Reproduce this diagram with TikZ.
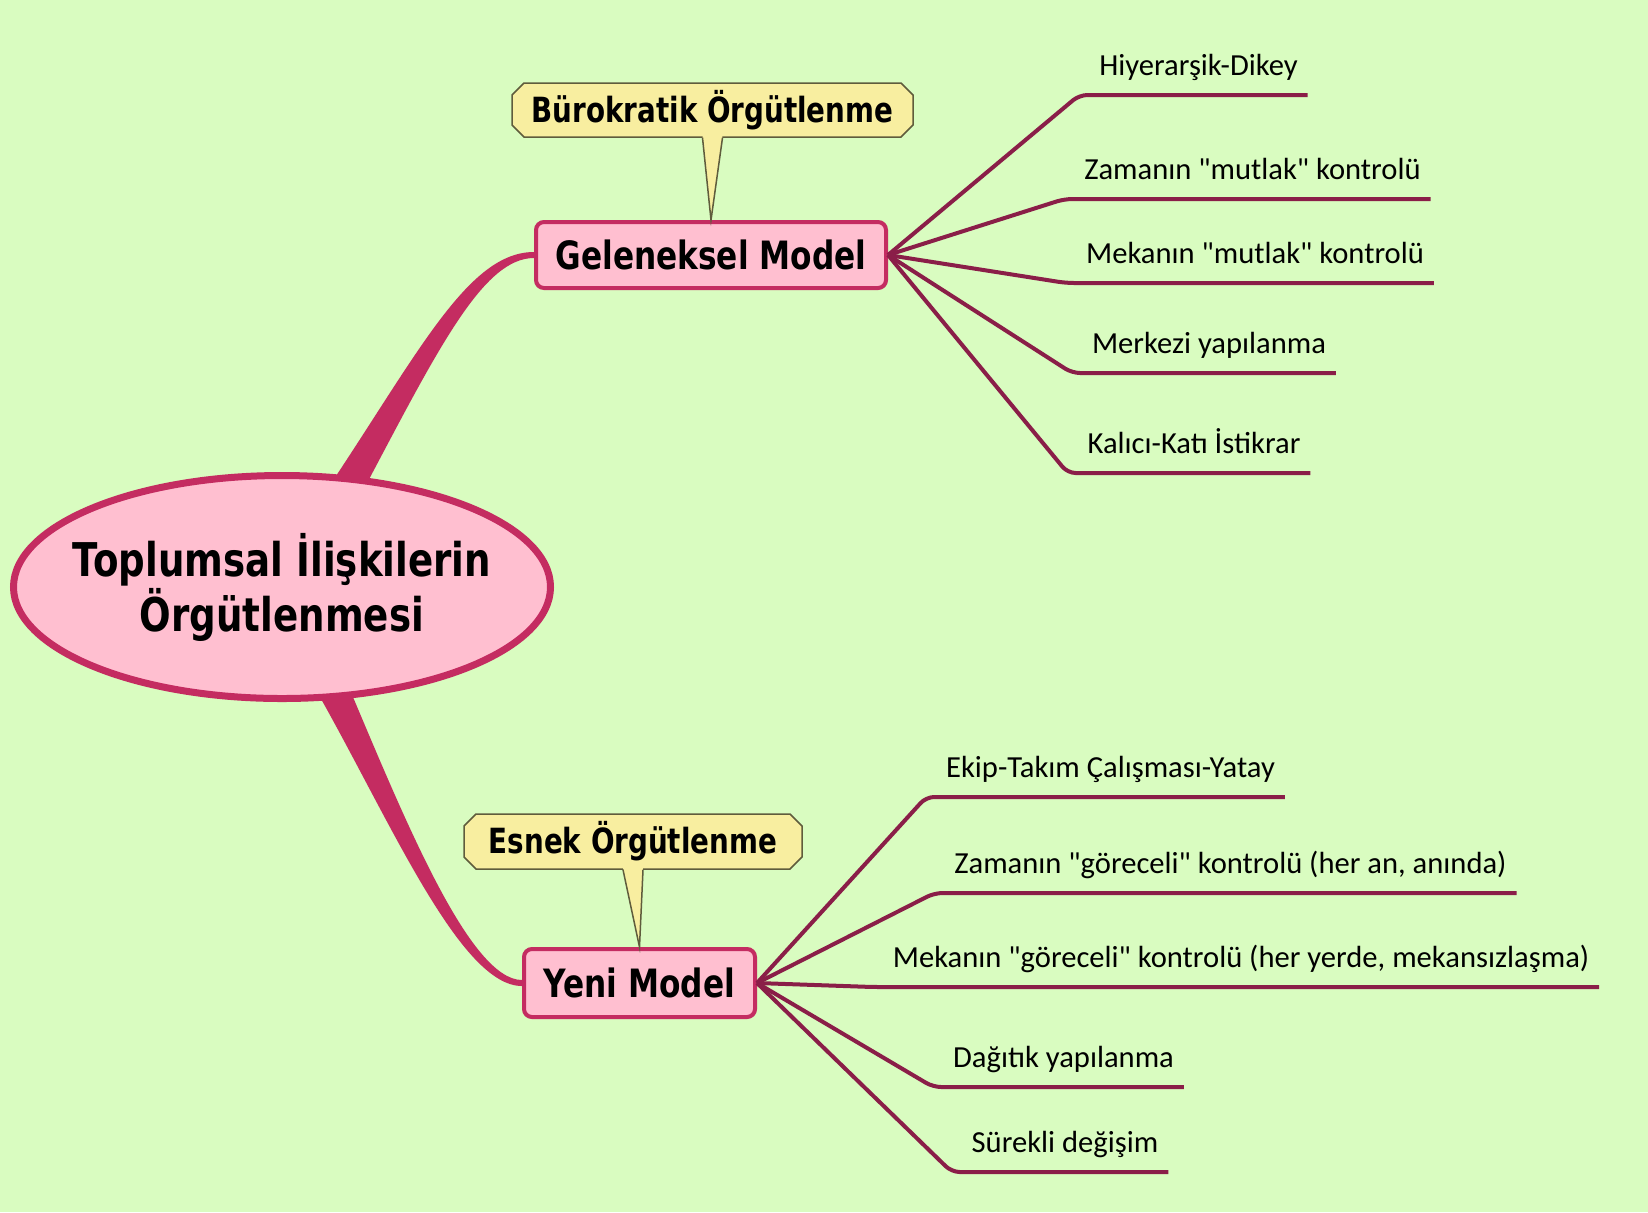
\documentclass[tikz,border=0pt]{standalone}
\usepackage{fontspec}
\usetikzlibrary{shapes.geometric,shapes.misc,calc}
\newfontfamily\headfont{DejaVu Sans}[FakeStretch=0.8]
\newfontfamily\leaffont{Carlito}[Ligatures=TeXOff]
\definecolor{mapbg}{RGB}{217,252,192}
\definecolor{mapred}{RGB}{196,44,97}
\definecolor{mappink}{RGB}{255,191,208}
\definecolor{mapwine}{RGB}{138,30,72}
\definecolor{noteyellow}{RGB}{248,238,160}
\definecolor{noteline}{RGB}{95,92,60}
\pgfdeclarelayer{back}
\pgfsetlayers{back,main}
\newcommand{\leafnode}[3]{%
 \node[leaf] ({#1}) at ({#2}) {#3};%
}
\newcommand{\leafedge}[2]{%
 \draw[leafline] (#1.east) -- ([xshift=-10pt]#2.south west) -- ([xshift=5pt]#2.south east);%
}
\newcommand{\notepointer}[2]{%
 \fill[noteyellow] ([xshift=-5pt,yshift=1pt]#1.south) -- (#2.north) -- ([xshift=5pt,yshift=1pt]#1.south) -- cycle;%
 \draw[noteline,line width=0.75pt] ([xshift=-5pt]#1.south) -- (#2.north) -- ([xshift=5pt]#1.south);%
}

\begin{document}
\begin{tikzpicture}[x=0.5pt,y=-0.5pt,
  root/.style={ellipse,draw=mapred,fill=mappink,line width=3.5pt,minimum width=268.5pt,minimum height=111.5pt,inner xsep=-15pt,align=center,font=\headfont\bfseries\fontsize{23.25}{27.5}\selectfont},
  model/.style={rectangle,rounded corners=4pt,draw=mapred,fill=mappink,line width=2pt,font=\headfont\bfseries\fontsize{19.5}{22}\selectfont},
  note/.style={chamfered rectangle,chamfered rectangle xsep=3pt,chamfered rectangle ysep=3pt,inner xsep=1pt,inner ysep=0pt,draw=noteline,fill=noteyellow,line width=0.75pt,font=\headfont\bfseries\fontsize{17.35}{20}\selectfont},
  leaf/.style={font=\leaffont\fontsize{15.3}{18}\selectfont,text depth=0pt,inner xsep=0pt,inner ysep=10pt,outer sep=0pt,anchor=south},
  leafline/.style={draw=mapwine,line width=2pt,rounded corners=4pt},
  branch/.style={fill=mapred}]
  \useasboundingbox (0,0) rectangle (1648,1212);
  % main topics
  \node[root] (root) at (282,587) {Toplumsal İlişkilerin\\Örgütlenmesi};
  \node[model,minimum width=175pt,minimum height=33pt] (gm) at (711,255) {Geleneksel Model};
  \node[model,minimum width=115.5pt,minimum height=34pt] (ym) at (639.5,983) {Yeni Model};
  \node[note,minimum width=200.5pt,minimum height=27pt] (bk) at (712.5,110) {Bürokratik Örgütlenme};
  \node[note,minimum width=169pt,minimum height=27.5pt] (es) at (633,841.5) {Esnek Örgütlenme};
  \notepointer{bk}{gm}
  \notepointer{es}{ym}
  % leaves
  \leafnode{g1}{1198.5,95}{Hiyerarşik-Dikey}
  \leafnode{g2}{1252.5,199}{Zamanın "mutlak" kontrolü}
  \leafnode{g3}{1255,283}{Mekanın "mutlak" kontrolü}
  \leafnode{g4}{1209,373}{Merkezi yapılanma}
  \leafnode{g5}{1194,473}{Kalıcı-Katı İstikrar}
  \leafnode{y1}{1110.5,797}{Ekip-Takım Çalışması-Yatay}
  \leafnode{y2}{1230.5,893}{Zamanın "göreceli" kontrolü (her an, anında)}
  \leafnode{y3}{1241,987}{Mekanın "göreceli" kontrolü (her yerde, mekansızlaşma)}
  \leafnode{y4}{1063.5,1087}{Dağıtık yapılanma}
  \leafnode{y5}{1065,1172}{Sürekli değişim}
  \foreach \n in {1,...,5} {\leafedge{gm}{g\n} \leafedge{ym}{y\n}}
  \begin{pgfonlayer}{back}
    \fill[mapbg] (0,0) rectangle (1648,1212);
    \fill[branch] ($(root.north)+(48,13)$) .. controls +(90,-135) and +(-65,0) .. ([yshift=1.5pt]gm.west)
      -- ([yshift=-1.5pt]gm.west) .. controls +(-50,0) and +(74,-140) .. ($(root.north)+(84,13)$) -- cycle;
    \fill[branch] ($(root.south)+(34,-12)$) .. controls +(74,130) and +(-62,0) .. ([yshift=-1.5pt]ym.west)
      -- ([yshift=1.5pt]ym.west) .. controls +(-52,0) and +(55,130) .. ($(root.south)+(68,-12)$) -- cycle;
  \end{pgfonlayer}
\end{tikzpicture}
\end{document}
